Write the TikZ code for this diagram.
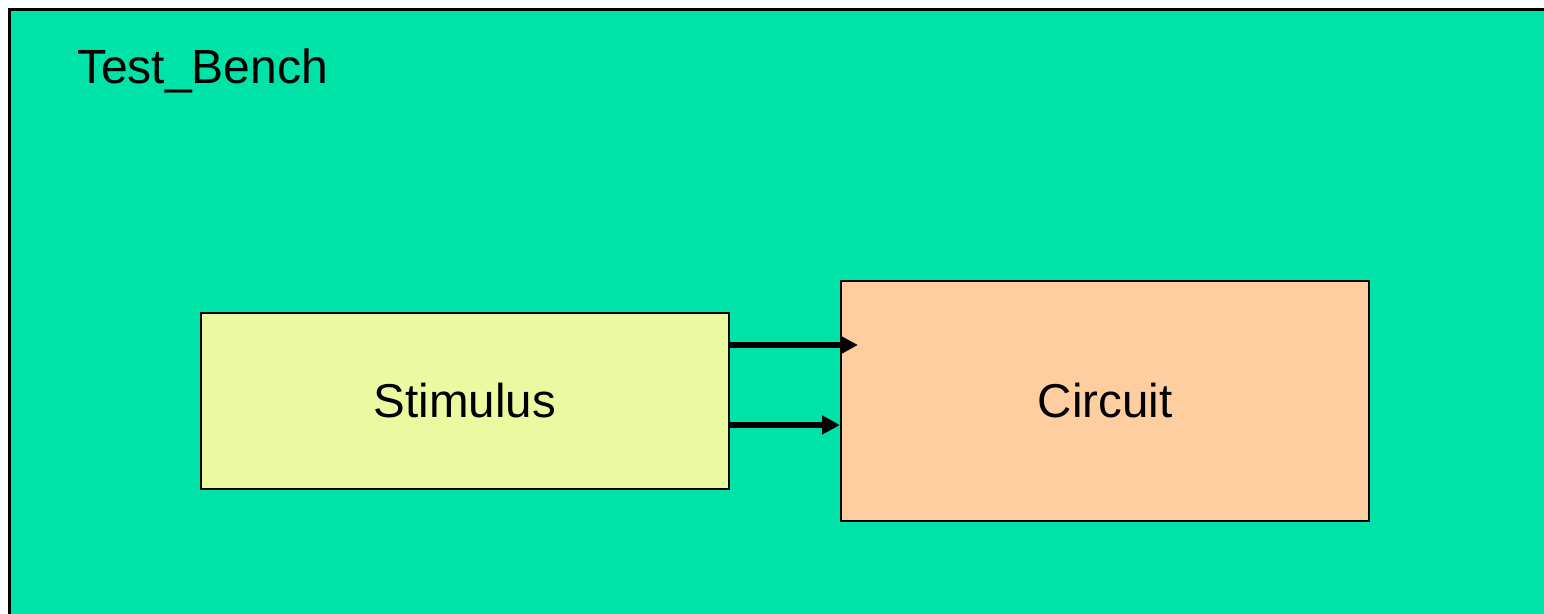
\documentclass[tikz,border=0pt]{standalone}
\usepackage{fontspec}
\setmainfont{Liberation Sans}
\usetikzlibrary{arrows.meta}
\definecolor{bggreen}{RGB}{0,227,168}
\definecolor{stimfill}{RGB}{235,250,160}
\definecolor{circfill}{RGB}{254,206,160}
\tikzset{
  blockbox/.style={draw=black, line width=2pt, inner sep=0pt, font=\fontsize{47.5}{56}\selectfont},
  arr/.style={line width=5.5pt, -{Triangle[length=18pt,width=18pt]}},
}
\begin{document}
\begin{tikzpicture}[x=1pt,y=-1pt]
\useasboundingbox (0,0) rectangle (1544,613);
\fill[white] (0,0) rectangle (1544,613);
\draw[fill=bggreen, line width=3pt] (9,9) rectangle (1560,630);
\node[anchor=base west, font=\fontsize{48}{56}\selectfont, inner sep=0pt] (title) at (77,83) {Test\_Bench};
\node[blockbox, fill=stimfill, minimum width=528pt, minimum height=176pt] (stim) at (465,401) {Stimulus};
\node[blockbox, fill=circfill, minimum width=528pt, minimum height=240pt] (circ) at (1105,401) {Circuit};
\coordinate (s1) at (729,345);
\coordinate (c1) at (858,345);
\coordinate (s2) at (729,425);
\draw[arr] (s1) -- (c1);
\draw[arr] (s2) -- (circ.west |- s2);
\end{tikzpicture}
\end{document}
